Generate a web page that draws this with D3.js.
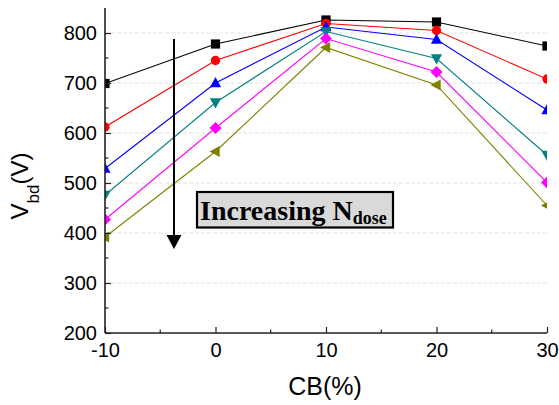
<!DOCTYPE html>
<html>
<head>
<meta charset="utf-8">
<script src="https://cdn.jsdelivr.net/npm/d3@7"></script>
<style>
  body { margin: 0; background: #fff; }
  text { font-family: "Liberation Sans", Arial, sans-serif; }
</style>
</head>
<body>
<script>
  // data
  var cb = [-10, 0, 10, 20, 30];
  var s1 = [699, 778, 826, 822, 774];   // black squares
  var s2 = [612, 745, 819, 805, 708];   // red circles
  var s3 = [529, 700, 812, 787, 646];   // blue triangles
  var s4 = [476, 661, 803, 749, 556];   // teal down triangles
  var s5 = [427, 610, 789, 722, 501];   // magenta diamonds
  var s6 = [392, 563, 771, 696, 455];   // olive left triangles
  var xTicks = [-10, 0, 10, 20, 30];
  var yTicks = [200, 300, 400, 500, 600, 700, 800];

  var series = [
    {v: s1, color: '#000000', shape: 'square'},
    {v: s2, color: '#ff0000', shape: 'circle'},
    {v: s3, color: '#0000ff', shape: 'up'},
    {v: s4, color: '#008080', shape: 'down'},
    {v: s5, color: '#ff00ff', shape: 'diamond'},
    {v: s6, color: '#808000', shape: 'left'}
  ];

  var W = 559, H = 405;
  var mLeft = 105, mRight = 547, mTop = 8, mBottom = 333;

  var svg = d3.select('body').append('svg')
    .attr('width', W).attr('height', H);

  var x = d3.scaleLinear().domain([-10, 30]).range([mLeft, mRight]);
  var y = d3.scaleLinear().domain([200, 850]).range([mBottom, mTop]);

  // grid
  svg.append('g').selectAll('line')
    .data(yTicks.filter(function(d) { return d > 200; }))
    .enter().append('line')
    .attr('x1', mLeft).attr('x2', mRight)
    .attr('y1', function(d) { return y(d); })
    .attr('y2', function(d) { return y(d); })
    .attr('stroke', '#e2e2e2').attr('stroke-width', 1)
    .attr('stroke-dasharray', '4,2');

  svg.append('clipPath').attr('id', 'plot')
    .append('rect').attr('x', mLeft).attr('y', mTop)
    .attr('width', mRight - mLeft).attr('height', mBottom - mTop);

  var plot = svg.append('g').attr('clip-path', 'url(#plot)');

  var line = d3.line()
    .x(function(d, i) { return x(cb[i]); })
    .y(function(d) { return y(d); });

  function marker(shape) {
    var s = 4.6;
    if (shape === 'square') return 'M' + (-s) + ',' + (-s) + 'h' + 2 * s + 'v' + 2 * s + 'h' + (-2 * s) + 'Z';
    if (shape === 'up') return 'M0,-6L5.6,4.2L-5.6,4.2Z';
    if (shape === 'down') return 'M0,6L5.6,-4.2L-5.6,-4.2Z';
    if (shape === 'left') return 'M-6,0L4.2,-5.6L4.2,5.6Z';
    if (shape === 'diamond') return 'M0,-6L6,0L0,6L-6,0Z';
    return d3.symbol().type(d3.symbolCircle).size(68)();
  }

  series.forEach(function(s) {
    plot.append('path').datum(s.v)
      .attr('d', line)
      .attr('fill', 'none')
      .attr('stroke', s.color)
      .attr('stroke-width', 1.1);
    plot.selectAll(null).data(s.v).enter().append('path')
      .attr('transform', function(d, i) { return 'translate(' + x(cb[i]) + ',' + y(d) + ')'; })
      .attr('d', marker(s.shape))
      .attr('fill', s.color);
  });

  // axes, ticks inward
  var xAxis = d3.axisBottom(x).tickValues(xTicks).tickSize(-6).tickPadding(14)
    .tickFormat(function(d) { return String(d); });
  var gx = svg.append('g').attr('transform', 'translate(0,' + mBottom + ')').call(xAxis);
  var yAxis = d3.axisLeft(y).tickValues(yTicks).tickSize(-6).tickPadding(14)
    .tickFormat(function(d) { return String(d); });
  var gy = svg.append('g').attr('transform', 'translate(' + mLeft + ',0)').call(yAxis);

  [gx, gy].forEach(function(g) {
    g.select('.domain').attr('stroke', '#222').attr('stroke-width', 1.6);
    g.selectAll('.tick line').attr('stroke', '#222').attr('stroke-width', 1.2);
    g.selectAll('.tick text').attr('fill', '#000')
      .style('font-size', '20px').style('font-family', '"Liberation Sans", Arial, sans-serif');
  });
  gy.select('.domain').attr('d', 'M0,' + mTop + 'V' + mBottom);
  gx.select('.domain').attr('d', 'M' + mLeft + ',0H' + mRight);
  gx.selectAll('.tick text').attr('y', 10).attr('dy', '0.71em');
  gy.selectAll('.tick text').attr('x', -8);

  // minor ticks
  svg.append('g').selectAll('line').data([-5, 5, 15, 25]).enter().append('line')
    .attr('x1', function(d) { return x(d); }).attr('x2', function(d) { return x(d); })
    .attr('y1', mBottom).attr('y2', mBottom - 3.5)
    .attr('stroke', '#222').attr('stroke-width', 1.2);
  svg.append('g').selectAll('line').data([250, 350, 450, 550, 650, 750]).enter().append('line')
    .attr('y1', function(d) { return y(d); }).attr('y2', function(d) { return y(d); })
    .attr('x1', mLeft).attr('x2', mLeft + 3.5)
    .attr('stroke', '#222').attr('stroke-width', 1.2);

  // axis titles
  svg.append('text').attr('x', 325).attr('y', 395)
    .attr('text-anchor', 'middle').style('font-size', '25px').text('CB(%)');

  var yt = svg.append('text').attr('transform', 'translate(28,186) rotate(-90)')
    .attr('text-anchor', 'middle').style('font-size', '24px');
  yt.append('tspan').text('V');
  yt.append('tspan').attr('dy', 11).style('font-size', '17px').text('bd');
  yt.append('tspan').attr('dy', -11).text('(V)');

  // arrow
  svg.append('line').attr('x1', 174).attr('x2', 174).attr('y1', 39).attr('y2', 238)
    .attr('stroke', '#000').attr('stroke-width', 2);
  svg.append('path').attr('d', 'M166.5,235L181.5,235L174,249Z').attr('fill', '#000');

  // label box
  svg.append('rect').attr('x', 197).attr('y', 192).attr('width', 196).attr('height', 35.5)
    .attr('fill', '#d9d9d9').attr('stroke', '#000').attr('stroke-width', 2.2);
  var lb = svg.append('text').attr('x', 200).attr('y', 219.5)
    .style('font-family', '"Liberation Serif", "Times New Roman", serif')
    .style('font-weight', 'bold').style('font-size', '28px');
  lb.append('tspan').text('Increasing N');
  lb.append('tspan').attr('dy', 4).style('font-size', '18px').text('dose');
</script>
</body>
</html>
